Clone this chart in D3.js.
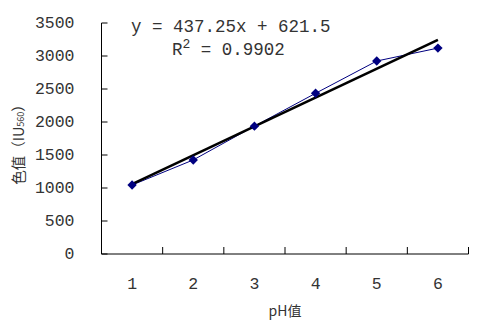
<!DOCTYPE html>
<html>
<head>
<meta charset="utf-8">
<script src="https://cdn.jsdelivr.net/npm/d3@7"></script>
<style>
  html, body { margin: 0; padding: 0; background: #fff; }
  svg { display: block; }
</style>
</head>
<body>
<svg id="chart" width="478" height="323"></svg>
<script>
'use strict';

// ── Data ──────────────────────────────────────────────────
const categories = ['1', '2', '3', '4', '5', '6'];
const colorValues = [1045, 1425, 1937, 2435, 2924, 3120];
const yTicks = [0, 500, 1000, 1500, 2000, 2500, 3000, 3500];
const trendSlope = 437.25;
const trendIntercept = 621.5;
const equationText = 'y = 437.25x + 621.5';
const r2Text = '0.9902';

// ── Layout ────────────────────────────────────────────────
const margin = { top: 23, right: 10, bottom: 69, left: 101.5 };
const iW = 468.5 - margin.left;
const iH = 254 - margin.top;
const numFont = '"Liberation Mono", "DejaVu Sans Mono", monospace';
const cjkFont = '"Noto Sans CJK SC", sans-serif';
const textColor = '#333';

const svg = d3.select('#chart');
const g = svg.append('g').attr('transform', `translate(${margin.left},${margin.top})`);

const x = d3.scaleBand().domain(categories).range([0, iW]);
const y = d3.scaleLinear().domain([0, 3500]).range([iH, 0]);
const cx = c => x(c) + x.bandwidth() / 2;
// numeric x (1..6) → pixel, for the trend line
const xNum = d3.scaleLinear().domain([1, 6]).range([cx('1'), cx('6')]);

// Axes
g.append('line').attr('x1', 0).attr('x2', 0).attr('y1', 0).attr('y2', iH)
  .attr('stroke', '#000').attr('stroke-width', 1);
g.append('line').attr('x1', 0).attr('x2', iW).attr('y1', iH).attr('y2', iH)
  .attr('stroke', '#000').attr('stroke-width', 1);

// Y ticks (inside) + labels
yTicks.forEach(t => {
  g.append('line').attr('x1', 0).attr('x2', 6)
    .attr('y1', y(t)).attr('y2', y(t)).attr('stroke', '#000');
  g.append('text')
    .attr('x', -27).attr('y', y(t))
    .attr('text-anchor', 'end').attr('dominant-baseline', 'central')
    .attr('font-family', numFont).attr('font-size', 16.5)
    .attr('fill', textColor).text(t);
});

// X ticks between categories (inside) + labels
categories.forEach(c => {
  const tx = x(c) + x.bandwidth();
  g.append('line').attr('x1', tx).attr('x2', tx)
    .attr('y1', iH - 7).attr('y2', iH).attr('stroke', '#000');
  g.append('text')
    .attr('x', cx(c)).attr('y', 289 - margin.top)
    .attr('text-anchor', 'middle')
    .attr('font-family', numFont).attr('font-size', 16.5)
    .attr('fill', textColor).text(c);
});

// Data line
const line = d3.line().x((d, i) => cx(categories[i])).y(d => y(d));
g.append('path').datum(colorValues)
  .attr('d', line).attr('fill', 'none')
  .attr('stroke', '#000080').attr('stroke-width', 1);

// Trend line
g.append('line')
  .attr('x1', xNum(1)).attr('y1', y(trendSlope * 1 + trendIntercept))
  .attr('x2', xNum(6)).attr('y2', y(trendSlope * 6 + trendIntercept))
  .attr('stroke', '#000').attr('stroke-width', 2.6);

// Diamond markers
const diamond = d3.symbol(d3.symbolSquare, 44);
colorValues.forEach((v, i) => {
  g.append('path')
    .attr('d', diamond())
    .attr('transform', `translate(${cx(categories[i])},${y(v)}) rotate(45)`)
    .attr('fill', '#000080');
});

// Equation text
svg.append('text')
  .attr('x', 131).attr('y', 32)
  .attr('font-family', numFont).attr('font-size', 17.5)
  .attr('fill', textColor).style('white-space', 'pre')
  .text(equationText);

const r2 = svg.append('text')
  .attr('x', 172).attr('y', 55)
  .attr('font-family', numFont).attr('font-size', 17.5)
  .attr('fill', textColor).style('white-space', 'pre');
r2.append('tspan').text('R');
r2.append('tspan').attr('dy', -7).attr('font-size', 13).text('2');
r2.append('tspan').attr('dy', 7).text(' = ' + r2Text);

// Axis titles
svg.append('text')
  .attr('x', 285).attr('y', 316)
  .attr('text-anchor', 'middle')
  .attr('font-family', cjkFont).attr('font-size', 14)
  .attr('fill', textColor).text('pH值');

const yt = svg.append('text')
  .attr('transform', 'translate(24,141) rotate(-90)')
  .attr('text-anchor', 'middle')
  .attr('font-family', cjkFont).attr('font-size', 14.5)
  .attr('fill', textColor);
yt.append('tspan').text('色值（IU');
yt.append('tspan').attr('font-size', 9).text('560');
yt.append('tspan').text('）');
</script>
</body>
</html>
